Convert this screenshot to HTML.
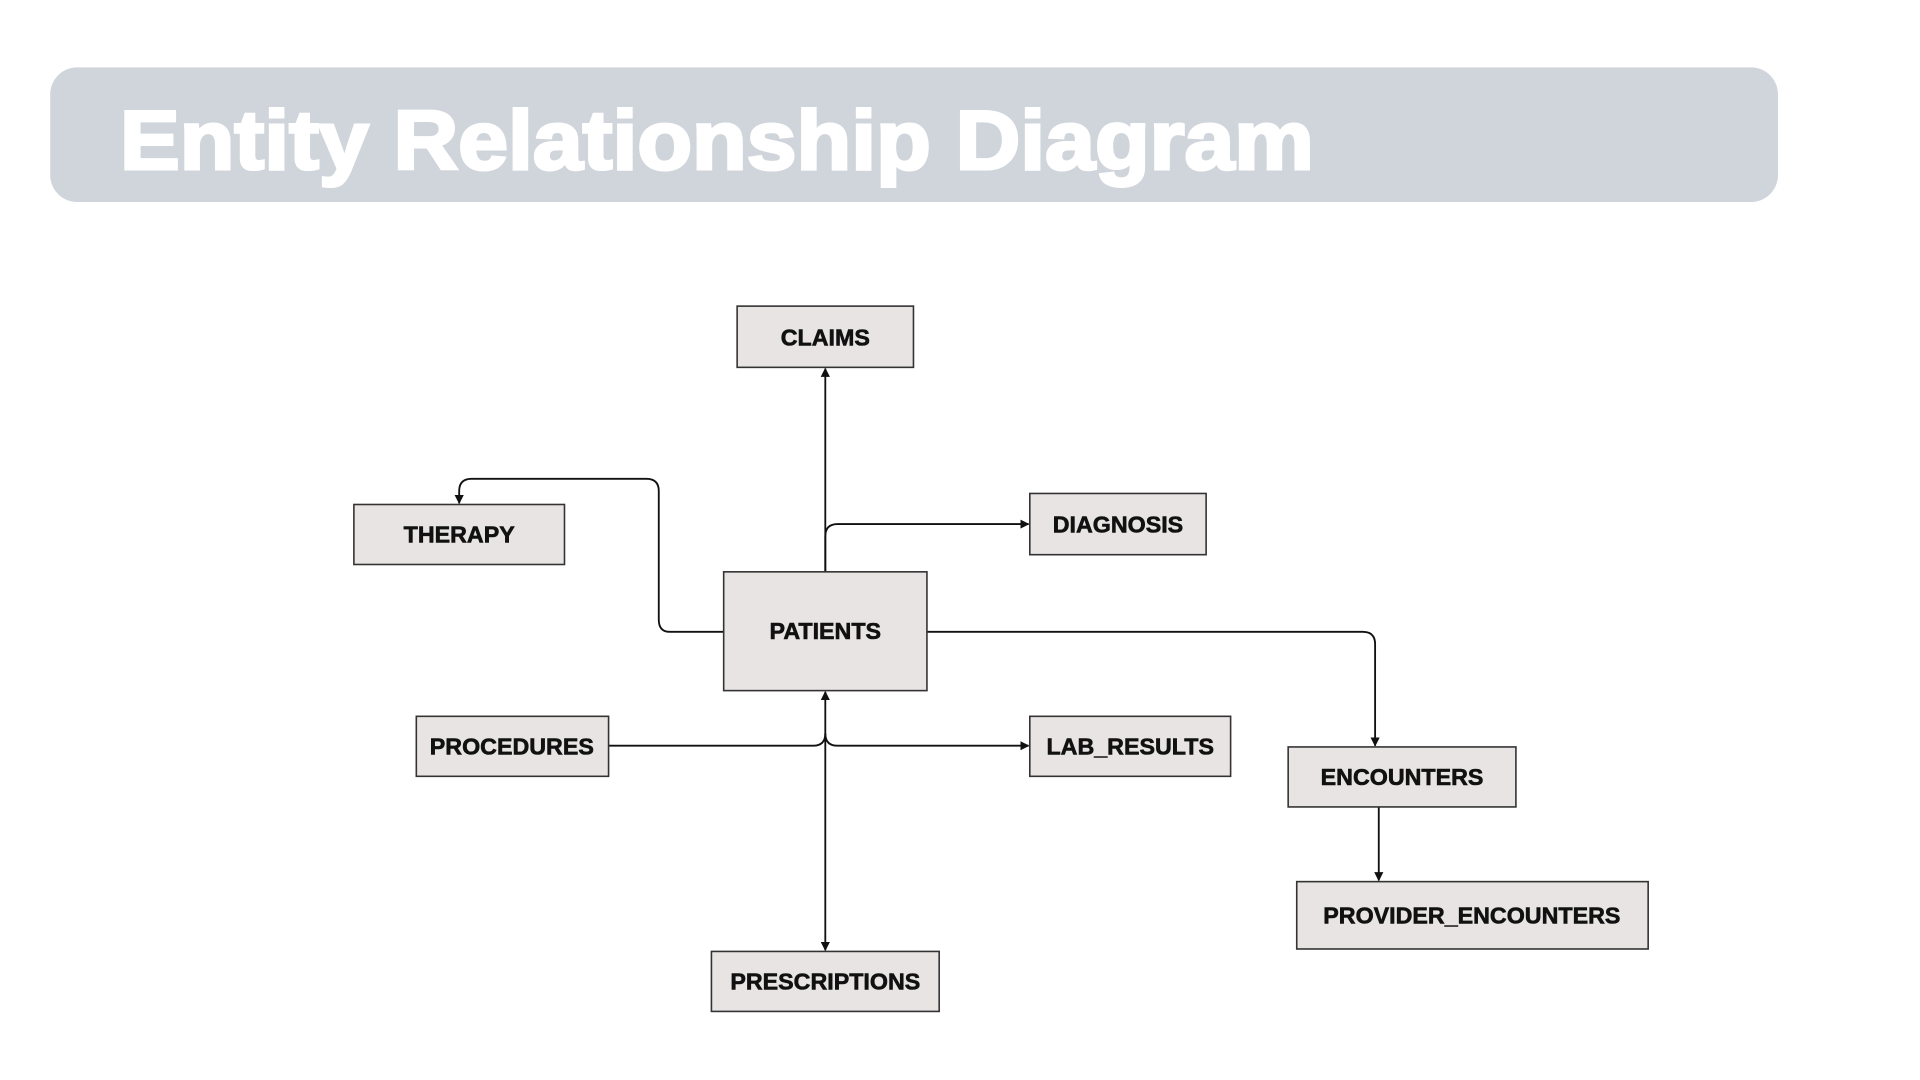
<!DOCTYPE html>
<html><head><meta charset="utf-8"><style>
html,body{margin:0;padding:0;background:#fff;}
svg{display:block;}
</style></head><body>
<svg width="1920" height="1080" viewBox="0 0 1568 882" xmlns="http://www.w3.org/2000/svg">
<defs>
<marker id="a" viewBox="0 0 10 10" refX="9" refY="5" markerWidth="5" markerHeight="5" orient="auto-start-reverse">
<path d="M0,0 L10,5 L0,10 Z" fill="#111"/>
</marker>
</defs>
<rect width="1568" height="882" fill="#fff"/>
<rect x="41" y="55" width="1411" height="110" rx="22" fill="#d0d5dc"/>
<text x="98" y="138" font-family="Liberation Sans, sans-serif" font-weight="bold" font-size="68" fill="#fff" stroke="#fff" stroke-width="2.5" textLength="975" lengthAdjust="spacingAndGlyphs">Entity Relationship Diagram</text>

<g fill="none" stroke="#111" stroke-width="1.5">
<path d="M674,467 L674,301" marker-end="url(#a)"/>
<path d="M674,467 L674,438 Q674,428 684,428 L840,428" marker-end="url(#a)"/>
<path d="M591,516 L547,516 Q538,516 538,506 L538,401 Q538,391 528,391 L385,391 Q375,391 375,401 L375,411" marker-end="url(#a)"/>
<path d="M757,516 L1113,516 Q1123,516 1123,526 L1123,609" marker-end="url(#a)"/>
<path d="M1126,659 L1126,719" marker-end="url(#a)"/>
<path d="M674,565 L674,776" marker-start="url(#a)" marker-end="url(#a)"/>
<path d="M497,609 L664,609 Q674,609 674,599"/>
<path d="M674,599 Q674,609 684,609 L840,609" marker-end="url(#a)"/>
</g>

<g fill="#e7e4e3" stroke="#333" stroke-width="1.3">
<rect x="602" y="250" width="144" height="50"/>
<rect x="289" y="412" width="172" height="49"/>
<rect x="841" y="403" width="144" height="50"/>
<rect x="591" y="467" width="166" height="97"/>
<rect x="340" y="585" width="157" height="49"/>
<rect x="841" y="585" width="164" height="49"/>
<rect x="1052" y="610" width="186" height="49"/>
<rect x="1059" y="720" width="287" height="55"/>
<rect x="581" y="777" width="186" height="49"/>
</g>
<g font-family="Liberation Sans, sans-serif" font-weight="bold" font-size="19" fill="#111" stroke="#111" stroke-width="0.5" text-anchor="middle">
<text x="674" y="282">CLAIMS</text>
<text x="375" y="443">THERAPY</text>
<text x="913" y="435">DIAGNOSIS</text>
<text x="674" y="522">PATIENTS</text>
<text x="418" y="616">PROCEDURES</text>
<text x="923" y="616">LAB_RESULTS</text>
<text x="1145" y="641">ENCOUNTERS</text>
<text x="1202" y="754">PROVIDER_ENCOUNTERS</text>
<text x="674" y="808">PRESCRIPTIONS</text>
</g>
</svg>
</body></html>
